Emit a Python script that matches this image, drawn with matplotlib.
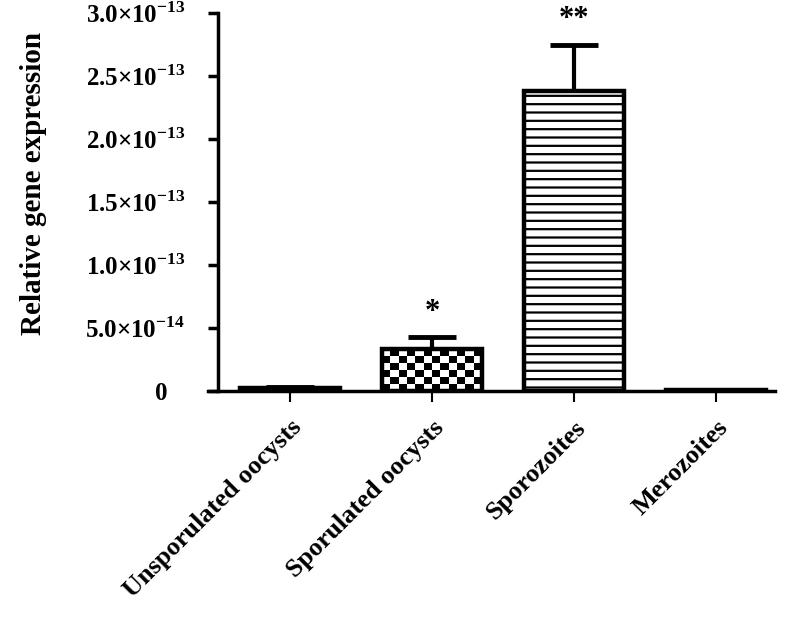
import numpy as np
import matplotlib
matplotlib.use('Agg')
import matplotlib.pyplot as plt
import matplotlib.transforms as mtransforms

plt.rcParams['font.family'] = ['Liberation Serif', 'DejaVu Serif']
plt.rcParams['font.weight'] = 'bold'
plt.rcParams['mathtext.fontset'] = 'custom'
plt.rcParams['mathtext.rm'] = 'Liberation Serif:bold'
plt.rcParams['mathtext.bf'] = 'Liberation Serif:bold'
plt.rcParams['hatch.linewidth'] = 1.6

# dados
grupos = ['Unsporulated oocysts', 'Sporulated oocysts', 'Sporozoites', 'Merozoites']
valores = [0.025e-13, 0.33e-13, 2.38e-13, 0.006e-13]
erros = [0.01e-13, 0.095e-13, 0.37e-13, 0.002e-13]
estrelas = ['', '*', '**', '']
yticks = [0, 0.5e-13, 1.0e-13, 1.5e-13, 2.0e-13, 2.5e-13, 3.0e-13]
ytick_labels = ['0', r'$5.0{\times}10^{-14}$', r'$1.0{\times}10^{-13}$', r'$1.5{\times}10^{-13}$',
                r'$2.0{\times}10^{-13}$', r'$2.5{\times}10^{-13}$', r'$3.0{\times}10^{-13}$']

fig = plt.figure(figsize=(7.92, 6.28), dpi=100)
ax = fig.add_axes([208/792, 1 - 391/628, 567/792, 378/628])

x = np.arange(len(grupos))
largura = 0.70
faces = ['black', 'none', 'white', 'black']

barras = ax.bar(x, valores, width=largura, color=faces, edgecolor='black', linewidth=3.2, zorder=3)
barras[2].set_hatch('--')

# xadrez na barra de oocistos esporulados
b = barras[1]
x0, y0 = b.get_x(), b.get_y()
w, h = b.get_width(), b.get_height()
ncol = 12
celula_y = 0.0556e-13
nlin = int(np.ceil(h / celula_y))
xadrez = (np.add.outer(np.arange(nlin), np.arange(ncol)) % 2).astype(float)
im = ax.imshow(xadrez, cmap='gray', extent=[x0, x0 + w, y0, y0 + nlin * celula_y],
               origin='lower', aspect='auto', interpolation='nearest', zorder=2)
im.set_clip_path(b)

eb = ax.errorbar(x, valores, yerr=[np.zeros(len(erros)), erros], fmt='none', ecolor='black',
                 elinewidth=3, capsize=17, capthick=3.5, zorder=4)
eb[1][0].set_visible(False)  # sem traço inferior

for xi, v, e, s in zip(x, valores, erros, estrelas):
    if s:
        ax.text(xi, v + e + 0.08e-13, s, ha='center', va='bottom', fontsize=22, fontweight='bold')

ax.set_xlim(-0.577, 3.415)
ax.set_ylim(0, 3.0e-13)
ax.spines['top'].set_visible(False)
ax.spines['right'].set_visible(False)
ax.spines['left'].set_position(('data', -0.507))
ax.spines['left'].set_linewidth(2.5)
ax.spines['bottom'].set_linewidth(2.5)
ax.spines['left'].set_bounds(0, 3.0e-13)

ax.set_yticks(yticks)
ax.set_yticklabels(ytick_labels, fontsize=18)
ax.tick_params(axis='y', length=7.5, width=2.5, pad=16)
ax.set_xticks(x)
ax.set_xticklabels(grupos, rotation=45, ha='right', rotation_mode='anchor', fontsize=19, fontweight='bold')
ax.tick_params(axis='x', length=8, width=1.5, pad=10)

# o "0" fica mais à esquerda no original
zero = ax.get_yticklabels()[0]
zero.set_transform(zero.get_transform() + mtransforms.ScaledTranslation(-0.18, 0, fig.dpi_scale_trans))

ax.set_ylabel('Relative gene expression', fontsize=21, fontweight='bold')
ax.yaxis.set_label_coords(-0.284, 0.548)

fig.savefig('out.png', dpi=100)
